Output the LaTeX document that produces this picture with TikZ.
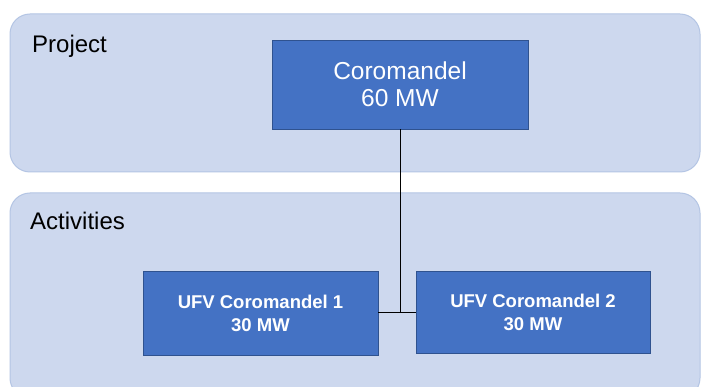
\documentclass[tikz,border=0pt]{standalone}
\usepackage{fontspec}
\setmainfont{Liberation Sans}
\definecolor{panelfill}{HTML}{CDD8EE}
\definecolor{paneldraw}{HTML}{B4C5E4}
\definecolor{boxfill}{HTML}{4472C4}
\definecolor{boxdraw}{HTML}{2F528F}
\begin{document}
\begin{tikzpicture}[x=1pt,y=1pt,
  panel/.style={fill=panelfill,draw=paneldraw,line width=1pt,rounded corners=20pt},
  unitbox/.style={fill=boxfill,draw=boxdraw,line width=0.8pt,text=white,align=center,inner sep=0pt},
  paneltitle/.style={anchor=base west,font=\fontsize{24}{28}\selectfont,inner sep=0pt},
  link/.style={draw=black,line width=1pt}]
\useasboundingbox (0,0) rectangle (702,-387);
\fill[white] (0,0) rectangle (702,-387);
\draw[panel] (10,-14) rectangle (700,-172);
\draw[panel] (10,-193) rectangle (700,-398);
\node[paneltitle] (proj) at (32,-53) {Project};
\node[paneltitle] (act) at (30,-230) {Activities};
\node[unitbox,minimum width=256pt,minimum height=89pt,font=\fontsize{24.5}{27}\selectfont] (top) at (400,-84.5) {Coromandel\\60 MW};
\node[unitbox,minimum width=235pt,minimum height=84pt,font=\bfseries\fontsize{18.5}{23}\selectfont] (b1) at (260.5,-313) {UFV Coromandel 1\\30 MW};
\node[unitbox,minimum width=234pt,minimum height=82pt,font=\bfseries\fontsize{18.5}{23}\selectfont] (b2) at (533,-312) {UFV Coromandel 2\\30 MW};
\draw[link] (top.south) -- (top.south |- b1.east);
\draw[link] (b1.east) -- (b1.east -| b2.west);
\end{tikzpicture}
\end{document}
